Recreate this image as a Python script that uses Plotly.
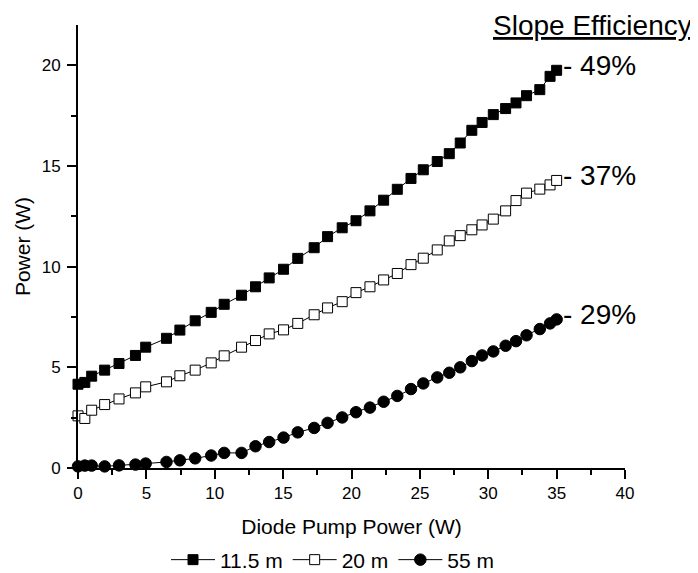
import plotly.graph_objects as go

pump_power = [0, 0.5, 1.0, 1.95, 3.0, 4.2, 4.95, 6.47, 7.45, 8.57, 9.74, 10.69, 11.96,
              12.98, 13.98, 15.03, 16.07, 17.27, 18.25, 19.32, 20.33, 21.35, 22.35, 23.35,
              24.35, 25.25, 26.27, 27.15, 27.95, 28.8, 29.55, 30.37, 31.27, 32.03, 32.8,
              33.77, 34.52, 35.0]

power_11_5m = [4.16, 4.25, 4.56, 4.86, 5.19, 5.59, 6.0, 6.44, 6.85, 7.31, 7.73, 8.13, 8.58,
               9.0, 9.44, 9.87, 10.41, 10.94, 11.49, 11.93, 12.28, 12.77, 13.3, 13.84,
               14.38, 14.81, 15.22, 15.61, 16.14, 16.77, 17.16, 17.55, 17.85, 18.13, 18.49,
               18.79, 19.45, 19.75]

power_20m = [2.59, 2.46, 2.87, 3.15, 3.43, 3.73, 4.03, 4.28, 4.58, 4.86, 5.22, 5.57, 6.0,
             6.33, 6.66, 6.86, 7.18, 7.61, 7.95, 8.26, 8.71, 9.0, 9.34, 9.66,
             10.1, 10.42, 10.83, 11.28, 11.54, 11.83, 12.07, 12.36, 12.77, 13.28, 13.65,
             13.85, 14.06, 14.28]

power_55m = [0.08, 0.12, 0.12, 0.08, 0.13, 0.17, 0.22, 0.3, 0.38, 0.48, 0.62, 0.75, 0.75,
             1.08, 1.29, 1.51, 1.77, 1.99, 2.24, 2.51, 2.77, 3.0, 3.29, 3.58,
             3.92, 4.2, 4.5, 4.73, 5.0, 5.31, 5.59, 5.79, 6.07, 6.3, 6.59,
             6.9, 7.18, 7.38]

series_names = ["11.5 m", "20 m", "55 m"]
slope_labels = ["- 49%", "- 37%", "- 29%"]

FONT = "Liberation Sans, Arial, sans-serif"

fig = go.Figure()

styles = [
    dict(symbol="square", size=10, color="black", line=dict(color="black", width=1)),
    dict(symbol="square", size=10, color="white", line=dict(color="black", width=1)),
    dict(symbol="circle", size=11.5, color="black", line=dict(color="black", width=1)),
]
all_series = [power_11_5m, power_20m, power_55m]

for name, ys, mk in zip(series_names, all_series, styles):
    fig.add_trace(go.Scatter(
        x=pump_power, y=ys, name=name, mode="lines+markers",
        line=dict(color="black", width=1),
        marker=mk, cliponaxis=False,
    ))

for ys, lab in zip(all_series, slope_labels):
    fig.add_annotation(
        x=pump_power[-1], y=ys[-1], xref="x", yref="y", text=lab,
        showarrow=False, xanchor="left", yanchor="middle", xshift=4, yshift=5,
        font=dict(family=FONT, size=28, color="black"),
    )

fig.add_annotation(
    x=0.94, y=1.0, xref="paper", yref="paper", text="<u>Slope Efficiency</u>",
    showarrow=False, xanchor="center", yanchor="middle",
    font=dict(family=FONT, size=28, color="black"),
)

axis_common = dict(
    showline=True, linewidth=2, linecolor="black", mirror=False,
    ticks="outside", ticklen=9, tickwidth=2, tickcolor="black",
    showgrid=False, zeroline=False, automargin=False,
    tickfont=dict(family=FONT, size=17, color="black"),
)

fig.update_xaxes(
    range=[0, 40], dtick=5, tick0=0,
    minor=dict(dtick=2.5, ticks="outside", ticklen=5, tickwidth=1.5, tickcolor="black", showgrid=False),
    title=dict(text="Diode Pump Power (W)", font=dict(family=FONT, size=21, color="black"), standoff=17),
    **axis_common,
)
fig.update_yaxes(
    range=[0, 22], dtick=5, tick0=0, ticklabelstandoff=3,
    minor=dict(dtick=2.5, ticks="outside", ticklen=5, tickwidth=1.5, tickcolor="black", showgrid=False),
    title=dict(text="Power (W)", font=dict(family=FONT, size=21, color="black"), standoff=5),
    **axis_common,
)

# page body adds an 8px offset, so the figure is 8px smaller and margins are shifted
fig.update_layout(
    width=690, height=565,
    margin=dict(l=70, r=73, t=17, b=105),
    plot_bgcolor="white", paper_bgcolor="white",
    font=dict(family=FONT, color="black"),
    legend=dict(
        orientation="h", xref="container", yref="container",
        x=325 / 690, xanchor="center", y=13 / 565, yanchor="middle",
        font=dict(family=FONT, size=21, color="black"),
        bgcolor="rgba(0,0,0,0)", itemwidth=44, tracegroupgap=0,
    ),
)

fig.write_html("out.html")
